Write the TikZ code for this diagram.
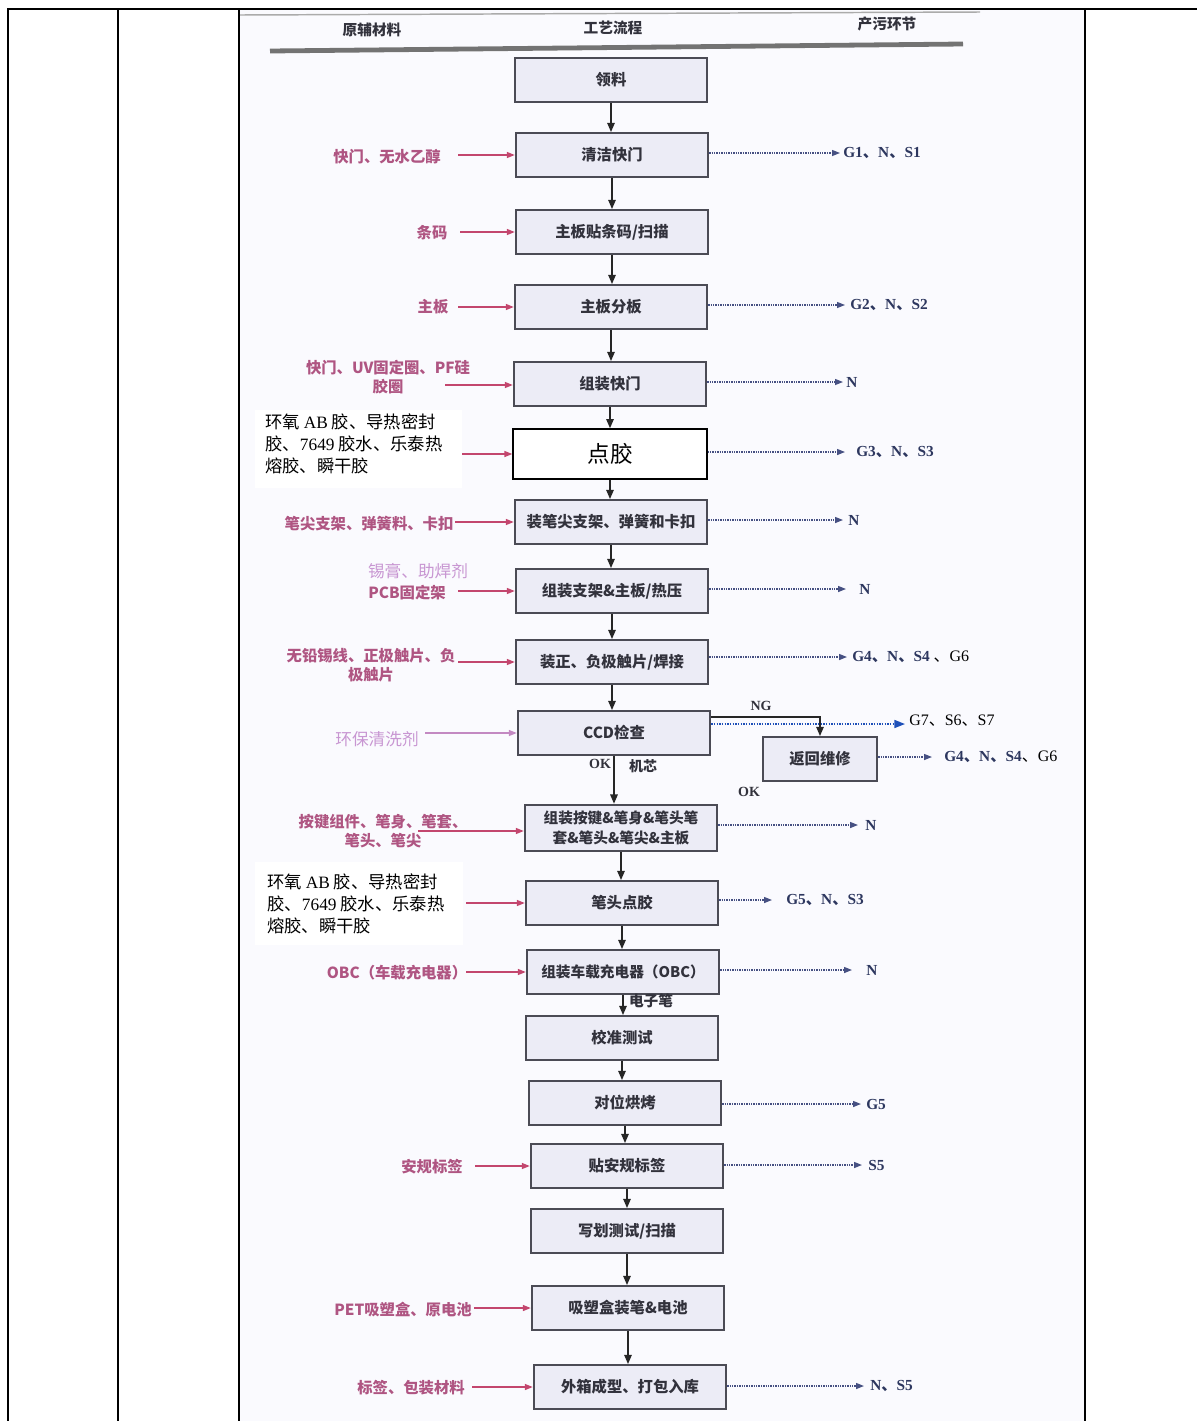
\documentclass[tikz,border=0pt]{standalone}
\usepackage{fontspec}
\setmainfont{Liberation Serif}
\newfontfamily\cjk{Noto Sans CJK SC}
\usetikzlibrary{arrows.meta}
\newcommand\ckd{{\cjk 、}}
\definecolor{boxfill}{RGB}{236,236,246}
\definecolor{boxdraw}{RGB}{75,75,85}
\definecolor{boxtext}{RGB}{50,50,60}
\definecolor{inc}{RGB}{175,85,130}
\definecolor{inarrc}{RGB}{195,70,110}
\definecolor{lightp}{RGB}{200,150,210}
\definecolor{outc}{RGB}{45,55,95}
\definecolor{dotc}{RGB}{70,80,130}
\definecolor{bluec}{RGB}{30,80,185}
\definecolor{scanbg}{RGB}{250,250,254}
\definecolor{hdrline}{RGB}{115,115,115}
\begin{document}
\begin{tikzpicture}[x=0.75pt,y=-0.75pt,
 proc/.style={draw=boxdraw,line width=1.3pt,fill=boxfill,minimum width=144.5pt,minimum height=33pt,inner sep=1pt,align=center,text=boxtext,font=\cjk\bfseries\fontsize{11.5}{14}\selectfont},
 inlab/.style={text=inc,align=center,inner sep=0pt,font=\cjk\bfseries\fontsize{11.5}{14.25}\selectfont},
 outlab/.style={text=outc,anchor=west,inner sep=0pt,font=\rmfamily\bfseries\fontsize{11.5}{13}\selectfont},
 blk/.style={text=black,anchor=north west,align=left,inner sep=0pt,font=\cjk\fontsize{13}{16.5}\selectfont},
 hdr/.style={text=boxtext,inner sep=0pt,font=\cjk\bfseries\fontsize{11}{13}\selectfont},
 flow/.style={draw=black!85,line width=1.4pt,-{Triangle[length=7pt,width=5.5pt]}},
 inarr/.style={draw=inarrc,line width=1.1pt,-{Triangle[length=6pt,width=4.5pt]}},
 outarr/.style={draw=dotc,line width=1pt,dash pattern=on 1pt off 0.8pt,-{Triangle[length=6pt,width=4.5pt]}},
]
\useasboundingbox (0,0) rectangle (1197,1421);
\fill[white] (0,0) rectangle (1197,1421);
\fill[scanbg] (240,10) rectangle (1084,1421);
\fill[white] (255,410) rectangle (462,488);
\fill[white] (255,862) rectangle (463,945);
% frame
\draw[line width=2.2pt] (7,9) -- (1197,9);
\draw[line width=2.2pt] (8,8) -- (8,1421);
\draw[line width=1.1pt] (118,9) -- (118,1421);
\draw[line width=1.6pt] (239,9) -- (239,1421);
\draw[line width=2.2pt] (1085,9) -- (1085,1421);
% header
\draw[hdrline!60,line width=1.1pt] (240,15) -- (980,12);
\draw[hdrline,line width=3.6pt] (270,51) -- (963,44);
\node[hdr] (h1) at (372,30) {原辅材料};
\node[hdr] (h2) at (613,28) {工艺流程};
\node[hdr] (h3) at (887,24) {产污环节};
% process boxes
\node[proc] (n1) at (611,80) {领料};
\node[proc] (n2) at (612,155) {清洁快门};
\node[proc] (n3) at (612,232) {主板贴条码/扫描};
\node[proc] (n4) at (611,307) {主板分板};
\node[proc] (n5) at (610,384) {组装快门};
\node[proc,fill=white,draw=black,line width=1pt,minimum width=145.5pt,minimum height=37.5pt,text=black,font=\cjk\fontsize{17}{20}\selectfont] (n6) at (610,454) {点胶};
\node[proc] (n7) at (611,522) {装笔尖支架、弹簧和卡扣};
\node[proc] (n8) at (612,591) {组装支架\&主板/热压};
\node[proc] (n9) at (612,662) {装正、负极触片/焊接};
\node[proc] (n10) at (614,733) {CCD检查};
\node[proc,minimum width=86pt] (n11) at (820,759) {返回维修};
\node[proc,minimum height=35pt,font=\cjk\bfseries\fontsize{11}{15}\selectfont] (n12) at (621,828) {组装按键\&笔身\&笔头笔\\套\&笔头\&笔尖\&主板};
\node[proc] (n13) at (622,903) {笔头点胶};
\node[proc,font=\cjk\bfseries\fontsize{11}{14}\selectfont] (n14) at (623,972) {组装车载充电器（OBC）};
\node[proc] (n15) at (622,1038) {校准测试};
\node[proc] (n16) at (625,1103) {对位烘烤};
\node[proc] (n17) at (627,1166) {贴安规标签};
\node[proc] (n18) at (627,1231) {写划测试/扫描};
\node[proc] (n19) at (628,1308) {吸塑盒装笔\&电池};
\node[proc] (n20) at (630,1387) {外箱成型、打包入库};
% main flow
\foreach \a/\b in {n1/n2,n2/n3,n3/n4,n4/n5,n5/n6,n6/n7,n7/n8,n8/n9,n9/n10,n10/n12,n12/n13,n13/n14,n14/n15,n15/n16,n16/n17,n17/n18,n18/n19,n19/n20}
  \draw[flow] (\a.south) -- (\a.south |- \b.north);
% NG branch
\coordinate (ng) at (820,717);
\draw[flow] (n10.east |- ng) -- (ng) -- (n11.north);
\node[inner sep=0pt,text=boxtext,font=\rmfamily\bfseries\fontsize{10.5}{12}\selectfont] (ngl) at (761,706) {NG};
\node[inner sep=0pt,text=boxtext,font=\rmfamily\bfseries\fontsize{10.5}{12}\selectfont] (okr) at (749,792) {OK};
\node[inner sep=0pt,text=boxtext,font=\rmfamily\bfseries\fontsize{10.5}{12}\selectfont] (okl) at (600,764) {OK};
\node[inner sep=0pt,text=boxtext,font=\cjk\bfseries\fontsize{10.5}{12}\selectfont] (jx) at (643,766) {机芯};
\node[inner sep=0pt,text=boxtext,font=\cjk\bfseries\fontsize{11}{12}\selectfont] (dzb) at (651,1001) {电子笔};
% blue output from CCD
\coordinate (bt) at (905,724);
\draw[bluec,line width=1.2pt,dash pattern=on 1.2pt off 0.8pt,-{Triangle[length=8pt,width=6pt]}] (n10.east |- bt) -- (bt);
\node[anchor=west,inner sep=0pt,text=black,font=\rmfamily\fontsize{12}{14}\selectfont] (o10) at (909,721) {G7\ckd S6\ckd S7};
% left inputs
\node[inlab] (i2) at (387,157) {快门、无水乙醇};
\coordinate (s2) at (458,155);
\node[inlab] (i3) at (432,233) {条码};
\coordinate (s3) at (460,232);
\node[inlab] (i4) at (433,307) {主板};
\coordinate (s4) at (458,307);
\node[inlab] (i5) at (388,377) {快门、UV固定圈、PF硅\\胶圈};
\coordinate (s5) at (445,385);
\node[blk] (i6) at (265,413) {环氧 {\rmfamily AB} 胶、导热密封\\胶、{\rmfamily 7649} 胶水、乐泰热\\熔胶、瞬干胶};
\coordinate (s6) at (462,454);
\node[inlab] (i7) at (369,524) {笔尖支架、弹簧料、卡扣};
\coordinate (s7) at (455,522);
\node[inlab,text=lightp,font=\cjk\fontsize{12.5}{14}\selectfont] (i8a) at (418,571) {锡膏、助焊剂};
\node[inlab] (i8) at (407,593) {PCB固定架};
\coordinate (s8) at (458,591);
\node[inlab] (i9) at (371,665) {无铅锡线、正极触片、负\\极触片};
\coordinate (s9) at (458,662);
\node[inlab,text=lightp,font=\cjk\fontsize{12.5}{14}\selectfont] (i10) at (377,739) {环保清洗剂};
\coordinate (s10) at (425,733);
\node[inlab] (i12) at (383,831) {按键组件、笔身、笔套、\\笔头、笔尖};
\coordinate (s12) at (418,831);
\node[blk] (i13) at (267,873) {环氧 {\rmfamily AB} 胶、导热密封\\胶、{\rmfamily 7649} 胶水、乐泰热\\熔胶、瞬干胶};
\coordinate (s13) at (466,903);
\node[inlab] (i14) at (397,973) {OBC（车载充电器）};
\coordinate (s14) at (466,972);
\node[inlab] (i17) at (432,1167) {安规标签};
\coordinate (s17) at (475,1166);
\node[inlab] (i19) at (403,1310) {PET吸塑盒、原电池};
\coordinate (s19) at (474,1308);
\node[inlab] (i20) at (411,1388) {标签、包装材料};
\coordinate (s20) at (472,1387);
\foreach \s/\n in {s2/n2,s3/n3,s4/n4,s5/n5,s6/n6,s7/n7,s8/n8,s9/n9,s12/n12,s13/n13,s14/n14,s17/n17,s19/n19,s20/n20}
  \draw[inarr] (\s) -- (\s -| \n.west);
\draw[draw=lightp!80!inc,line width=1pt,-{Triangle[length=6pt,width=4.5pt]}] (s10) -- (s10 -| n10.west);
% right outputs
\node[outlab] (o2) at (843,153) {G1\ckd N\ckd S1};
\coordinate (t2) at (840,153);
\node[outlab] (o4) at (850,305) {G2\ckd N\ckd S2};
\coordinate (t4) at (845,305);
\node[outlab] (o5) at (846,382) {N};
\coordinate (t5) at (843,382);
\node[outlab] (o6) at (856,452) {G3\ckd N\ckd S3};
\coordinate (t6) at (845,452);
\node[outlab] (o7) at (848,520) {N};
\coordinate (t7) at (843,520);
\node[outlab] (o8) at (859,589) {N};
\coordinate (t8) at (846,589);
\node[outlab] (o9) at (852,657) {G4\ckd N\ckd S4 {\mdseries\color{black}\fontsize{12}{14}\selectfont\ckd G6}};
\coordinate (t9) at (847,657);
\node[outlab] (o11) at (944,757) {G4\ckd N\ckd S4{\mdseries\color{black}\fontsize{12}{14}\selectfont\ckd G6}};
\coordinate (t11) at (932,757);
\node[outlab] (o12) at (865,825) {N};
\coordinate (t12) at (858,825);
\node[outlab] (o13) at (786,900) {G5\ckd N\ckd S3};
\coordinate (t13) at (772,900);
\node[outlab] (o14) at (866,970) {N};
\coordinate (t14) at (852,970);
\node[outlab] (o16) at (866,1104) {G5};
\coordinate (t16) at (861,1104);
\node[outlab] (o17) at (868,1165) {S5};
\coordinate (t17) at (862,1165);
\node[outlab] (o20) at (870,1386) {N\ckd S5};
\coordinate (t20) at (864,1386);
\foreach \n/\t in {n2/t2,n4/t4,n5/t5,n6/t6,n7/t7,n8/t8,n9/t9,n11/t11,n12/t12,n13/t13,n14/t14,n16/t16,n17/t17,n20/t20}
  \draw[outarr] (\n.east |- \t) -- (\t);
\end{tikzpicture}
\end{document}
